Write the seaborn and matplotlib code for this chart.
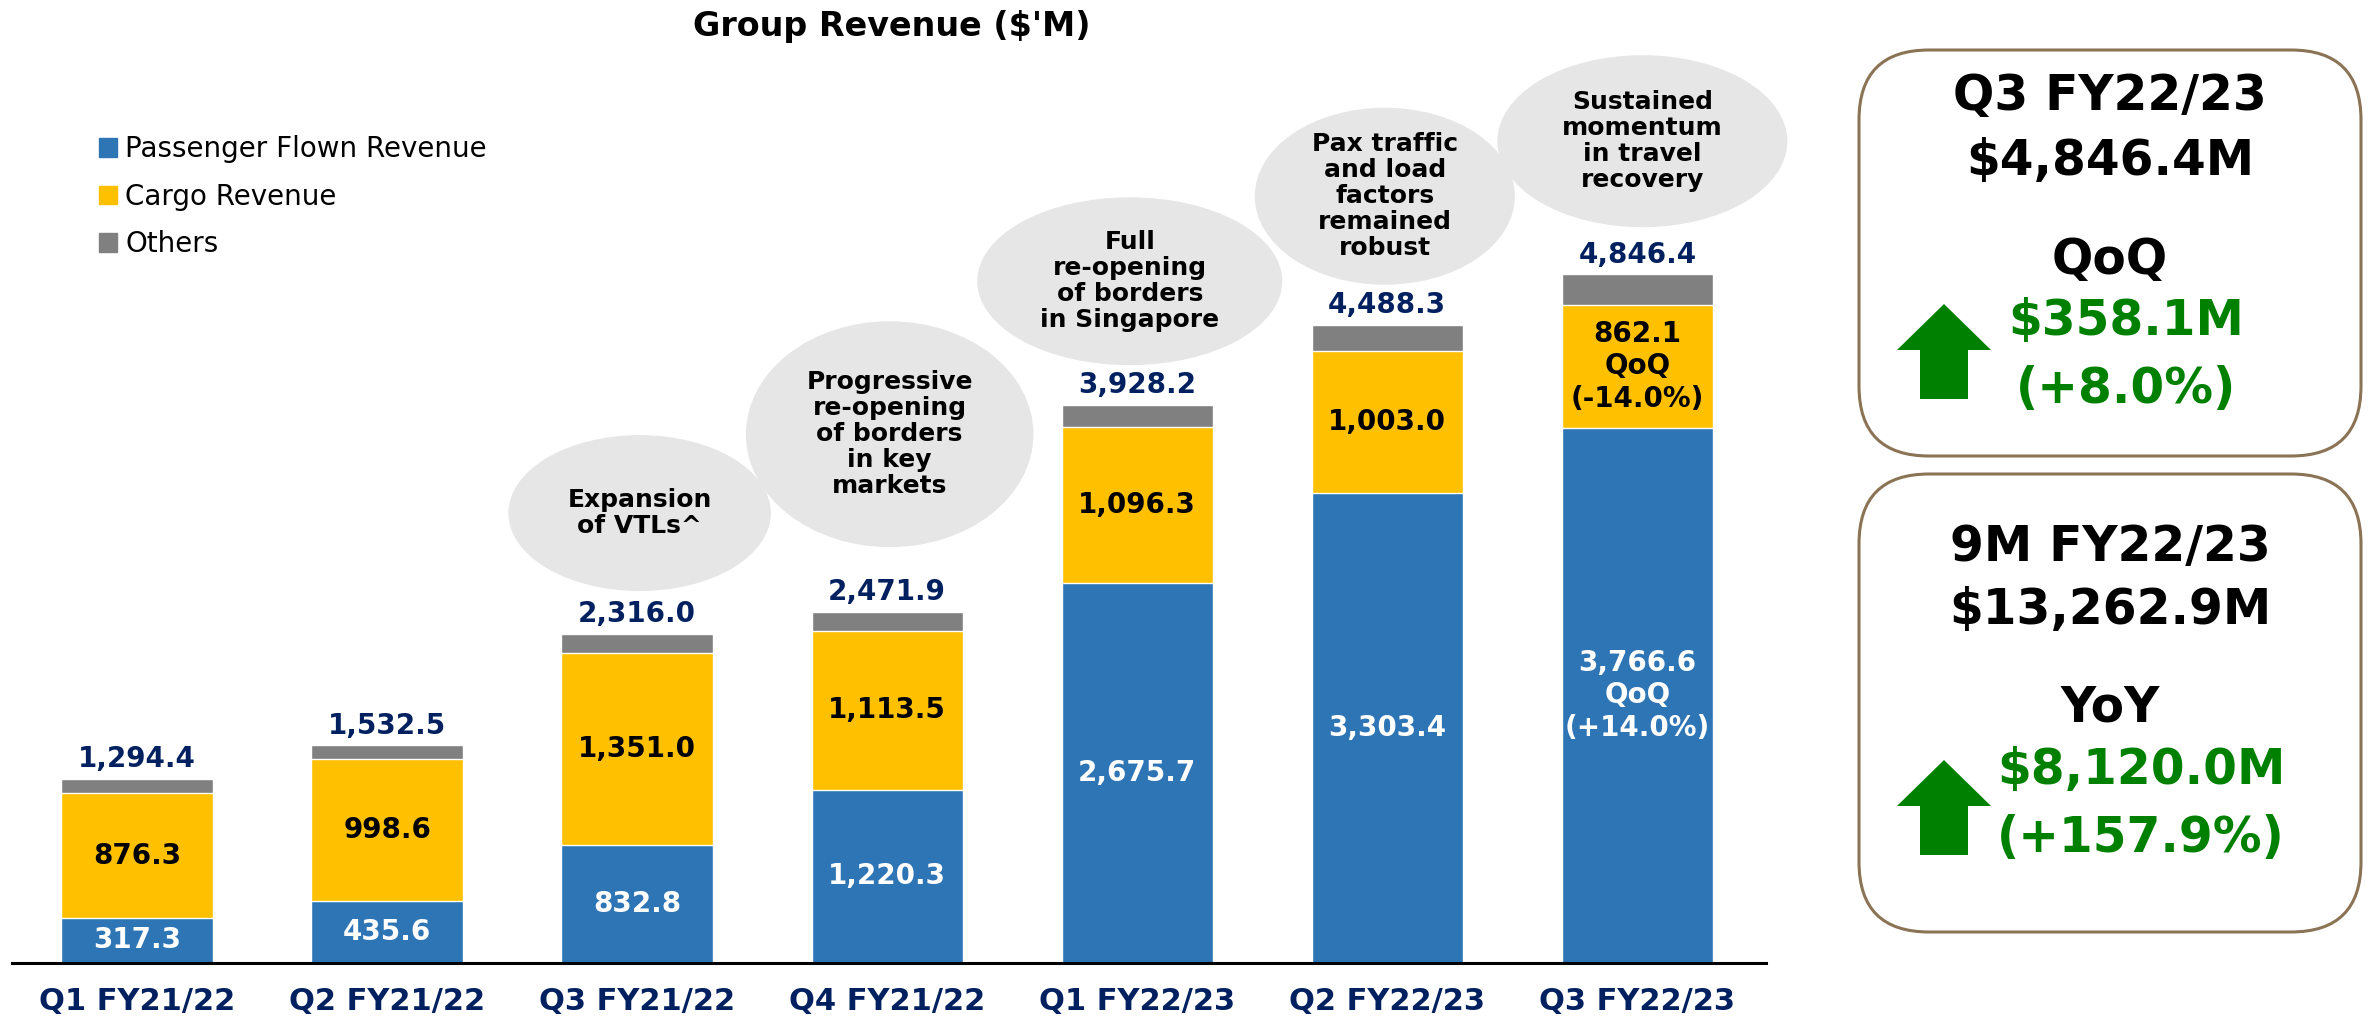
import numpy as np
import pandas as pd
import matplotlib
matplotlib.use("Agg")
import matplotlib.pyplot as plt
import matplotlib.patches as mpatches
import seaborn as sns

# ── data ──────────────────────────────────────────────────────────────────────
quarters  = ["Q1 FY21/22", "Q2 FY21/22", "Q3 FY21/22", "Q4 FY21/22",
             "Q1 FY22/23", "Q2 FY22/23", "Q3 FY22/23"]
passenger = [317.3, 435.6, 832.8, 1220.3, 2675.7, 3303.4, 3766.6]
cargo     = [876.3, 998.6, 1351.0, 1113.5, 1096.3, 1003.0, 862.1]
total     = [1294.4, 1532.5, 2316.0, 2471.9, 3928.2, 4488.3, 4846.4]

pax_notes   = ["", "", "", "", "", "", "QoQ\n(+14.0%)"]
cargo_notes = ["", "", "", "", "", "", "QoQ\n(-14.0%)"]

bubble_texts = {
    2: "Expansion\nof VTLs^",
    3: "Progressive\nre-opening\nof borders\nin key\nmarkets",
    4: "Full\nre-opening\nof borders\nin Singapore",
    5: "Pax traffic\nand load\nfactors\nremained\nrobust",
    6: "Sustained\nmomentum\nin travel\nrecovery",
}

# ── styling ───────────────────────────────────────────────────────────────────
BLUE   = "#2E75B6"
YELLOW = "#FFC000"
GREY   = "#808080"
NAVY   = "#002060"
GREEN  = "#008000"
BUBBLE = "#E6E6E6"
BROWN  = "#8B7355"

# bubble layout: x offset, y centre, width, height (data units)
bubble_layout = {
    2: (0.01, 3165, 1.05, 1097),
    3: (0.01, 3720, 1.15, 1589),
    4: (-0.03, 4796, 1.22, 1181),
    5: (-0.01, 5394, 1.04, 1245),
    6: (0.02, 5781, 1.16, 1210),
}

sns.set_style("white")
plt.rcParams["font.family"] = ["DejaVu Sans"]
plt.rcParams["text.color"] = "black"

df = pd.DataFrame({"quarter": quarters, "passenger": passenger,
                   "cargo": cargo, "total": total})
df["pax_cargo"] = df["passenger"] + df["cargo"]

fig = plt.figure(figsize=(23.74, 10.26), dpi=100)
ax = fig.add_axes([0.00505, 0.0614, 0.739, 0.9006])

# layered bars -> stacked look
for col, colr in [("total", GREY), ("pax_cargo", YELLOW), ("passenger", BLUE)]:
    sns.barplot(data=df, x="quarter", y=col, color=colr, saturation=1,
                width=0.605, errorbar=None, edgecolor="white", linewidth=1,
                ax=ax, zorder=2)

for i in range(len(quarters)):
    p, c, t = passenger[i], cargo[i], total[i]
    ax.text(i, p / 2, f"{p:,.1f}" + ("\n" + pax_notes[i] if pax_notes[i] else ""),
            ha="center", va="center", color="white", fontsize=20,
            fontweight="bold", zorder=4)
    ax.text(i, p + c / 2, f"{c:,.1f}" + ("\n" + cargo_notes[i] if cargo_notes[i] else ""),
            ha="center", va="center", color="black", fontsize=20,
            fontweight="bold", zorder=4)
    ax.annotate(f"{t:,.1f}", (i, t), xytext=(0, 4), textcoords="offset points",
                ha="center", va="bottom", color=NAVY, fontsize=20,
                fontweight="bold", zorder=4)

# speech bubbles
for i, txt in bubble_texts.items():
    dx, yc, w, h = bubble_layout[i]
    ax.add_patch(mpatches.Ellipse((i + dx, yc), w, h, facecolor=BUBBLE,
                                  edgecolor="none", zorder=1, clip_on=False))
    ax.text(i + dx, yc, txt, ha="center", va="center", fontsize=18,
            fontweight="bold", color="black", linespacing=1.1, zorder=3)

ax.set_xlim(-0.5, 6.516)
ax.set_ylim(0, 6500)
ax.set_yticks([])
ax.set_xlabel("")
ax.set_ylabel("")
for s in ["top", "right", "left"]:
    ax.spines[s].set_visible(False)
ax.spines["bottom"].set_linewidth(2.2)
ax.spines["bottom"].set_color("black")
ax.tick_params(axis="x", length=0, pad=17, labelsize=22, labelcolor=NAVY)
for lbl in ax.get_xticklabels():
    lbl.set_fontweight("bold")

legend_patches = [
    mpatches.Patch(color=BLUE, label="Passenger Flown Revenue"),
    mpatches.Patch(color=YELLOW, label="Cargo Revenue"),
    mpatches.Patch(color=GREY, label="Others"),
]
fig.legend(handles=legend_patches, loc="upper left", bbox_to_anchor=(0.0417, 0.868),
           frameon=False, fontsize=20, handlelength=0.65, handleheight=0.65,
           handletextpad=0.3, labelspacing=0.7, borderpad=0, borderaxespad=0)

fig.text(0.3757, 0.9737, "Group Revenue ($'M)", ha="center", va="center",
         fontsize=24, fontweight="bold", color="black")

# ── right-hand summary boxes (pixel coords) ──────────────────────────────────
ov = fig.add_axes([0, 0, 1, 1])
ov.set_xlim(0, 2374)
ov.set_ylim(1026, 0)
ov.axis("off")

def summary_box(top, bottom, lines, green_lines, green_x, arrow_tip_y):
    ov.add_patch(mpatches.FancyBboxPatch((1859, top), 502, bottom - top,
                 boxstyle="round,pad=0,rounding_size=70", facecolor="white",
                 edgecolor=BROWN, linewidth=2.2))
    for y, s in lines:
        ov.text(2110, y, s, ha="center", va="center", fontsize=35,
                fontweight="bold", color="black")
    for y, s in green_lines:
        ov.text(green_x, y, s, ha="center", va="center", fontsize=35,
                fontweight="bold", color=GREEN)
    t = arrow_tip_y
    ov.add_patch(mpatches.Polygon([(1944, t), (1991, t + 46), (1968, t + 46),
                                   (1968, t + 95), (1920, t + 95), (1920, t + 46),
                                   (1897, t + 46)], closed=True,
                                  facecolor=GREEN, edgecolor="none"))

summary_box(50, 456,
            [(96, "Q3 FY22/23"), (161, "$4,846.4M"), (260, "QoQ")],
            [(321, "$358.1M"), (389, "(+8.0%)")], 2126, 304)
summary_box(474, 932,
            [(547, "9M FY22/23"), (610, "$13,262.9M"), (707, "YoY")],
            [(770, "$8,120.0M"), (838, "(+157.9%)")], 2141, 760)

fig.savefig("out.png", dpi=100)
